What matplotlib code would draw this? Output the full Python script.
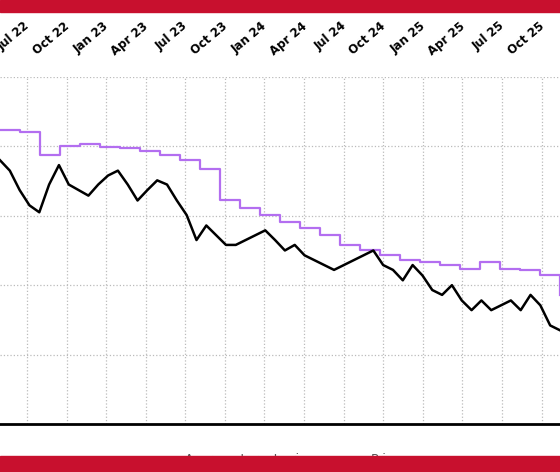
import matplotlib.pyplot as plt
import matplotlib.patches as mpatches
import matplotlib.transforms as mtransforms
import numpy as np

# Data (arbitrary price units, months since Jul 22)
TICK_LABELS = ["Jul 22", "Oct 22", "Jan 23", "Apr 23", "Jul 23", "Oct 23", "Jan 24",
               "Apr 24", "Jul 24", "Oct 24", "Jan 25", "Apr 25", "Jul 25", "Oct 25"]
price = [3.80, 3.65, 3.37, 3.15, 3.05, 3.45, 3.73, 3.45, 3.37, 3.29, 3.45, 3.58, 3.65,
         3.45, 3.22, 3.37, 3.51, 3.45, 3.22, 3.01, 2.65, 2.86, 2.72, 2.58, 2.58, 2.65,
         2.72, 2.79, 2.65, 2.50, 2.58, 2.43, 2.36, 2.29, 2.22, 2.29, 2.36, 2.43, 2.50,
         2.29, 2.22, 2.07, 2.29, 2.14, 1.93, 1.86, 2.00, 1.78, 1.64, 1.78, 1.64, 1.71,
         1.78, 1.64, 1.86, 1.71, 1.42, 1.35]
target = [4.23, 4.20, 3.87, 4.01, 4.04, 3.99, 3.97, 3.94, 3.87, 3.80, 3.68, 3.22, 3.11,
          3.01, 2.91, 2.82, 2.72, 2.58, 2.50, 2.43, 2.36, 2.33, 2.29, 2.24, 2.33, 2.24,
          2.22, 2.14, 1.86]

X_MIN, X_MAX = -2.05, 40.4
RED = "#c8102e"

fig = plt.figure(figsize=(5.6, 4.72), dpi=100)
ax = fig.add_axes([0, 0.1017, 1, 0.7353])

price_x = np.linspace(X_MIN, X_MAX, len(price))
target_x = np.linspace(X_MIN, X_MAX, len(target))
ax.plot(target_x, target, color="#b36ef0", linewidth=1.6, drawstyle="steps-post")
ax.plot(price_x, price, color="black", linewidth=1.8)

ax.set_xlim(X_MIN, X_MAX)
ax.set_ylim(0, 5)
tick_pos = np.arange(len(TICK_LABELS)) * 3
ax.set_xticks(tick_pos)
ax.tick_params(axis="x", length=0, labelbottom=False, labeltop=False)
ax.set_yticks([1, 2, 3, 4, 5])
ax.tick_params(axis="y", left=False, labelleft=False)
ax.grid(color="#bbbbbb", linestyle=":", linewidth=0.9)
for name, spine in ax.spines.items():
    spine.set_visible(name == "bottom")
ax.spines["bottom"].set_linewidth(2)

# Month labels sit up-left of their gridline
trans = mtransforms.blended_transform_factory(ax.transData, ax.transAxes)
for pos, label in zip(tick_pos, TICK_LABELS):
    ax.text(pos - 0.25, 1.165, label, transform=trans, rotation=40, rotation_mode="anchor",
            ha="right", va="top", fontsize=8.5, fontweight="bold", clip_on=False)

# Legend labels (cut off by the red band)
fig.text(0.445, 0.02, "Average target price", fontsize=9, color="#555555", ha="center")
fig.text(0.69, 0.02, "Price", fontsize=9, color="#555555", ha="center")

# Red bands
fig.patches.append(mpatches.Rectangle((0, 1 - 12 / 472), 1, 12 / 472, transform=fig.transFigure,
                                      color=RED, zorder=10))
fig.patches.append(mpatches.Rectangle((0, 0), 1, 16 / 472, transform=fig.transFigure,
                                      color=RED, zorder=10))

fig.savefig("out.png")
